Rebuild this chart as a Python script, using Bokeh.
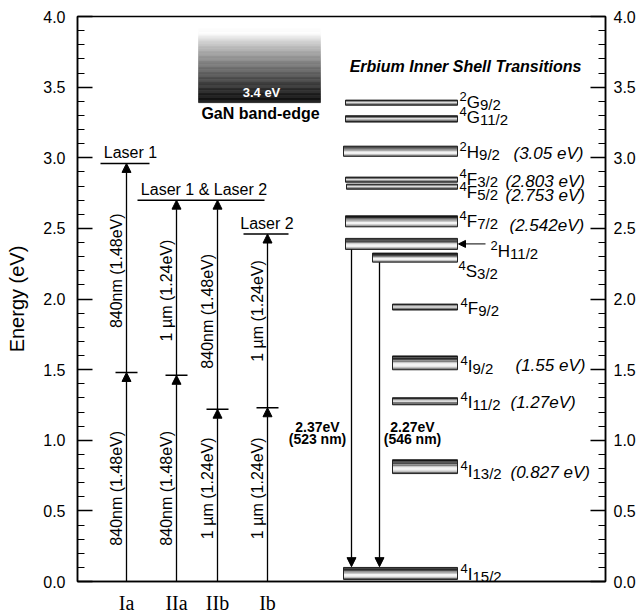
import numpy as np
from bokeh.plotting import figure
from bokeh.models import (Range1d, LinearAxis, SingleIntervalTicker, FixedTicker,
                          NumeralTickFormatter, ColumnDataSource, Arrow, NormalHead)
from bokeh.core.properties import value
from bokeh.embed import file_html
from bokeh.resources import INLINE

FONT = "Liberation Sans"
SERIF = "Liberation Serif"

# ---------------- data ----------------
# Er3+ inner-shell levels
level_sup = ["2", "4", "2", "4", "4", "4", "2", "4", "4", "4", "4", "4", "4"]
level_letter = ["G", "G", "H", "F", "F", "F", "H", "S", "F", "I", "I", "I", "I"]
level_sub = ["9/2", "11/2", "9/2", "3/2", "5/2", "7/2", "11/2", "3/2", "9/2", "9/2", "11/2", "13/2", "15/2"]
level_energy = [3.39, 3.275, 3.046, 2.845, 2.795, 2.55, 2.39, 2.293, 1.943, 1.548, 1.276, 0.813, 0.057]
level_note = ["", "", "(3.05 eV)", "(2.803 eV)", "(2.753 eV)", "(2.542eV)", "", "", "",
              "(1.55 eV)", "(1.27eV)", "(0.827 eV)", ""]

# pump paths
pump_names = ["Ia", "IIa", "IIb", "Ib"]
pump_mid = [1.48, 1.46, 1.22, 1.23]
pump_top = [2.96, 2.70, 2.70, 2.46]
pump_lower_text = ["840nm (1.48eV)", "840nm (1.48eV)", "1 \u00b5m (1.24eV)", "1 \u00b5m (1.24eV)"]
pump_upper_text = ["840nm (1.48eV)", "1 \u00b5m (1.24eV)", "840nm (1.48eV)", "1 \u00b5m (1.24eV)"]

# laser levels
laser_names = ["Laser 1", "Laser 1 & Laser 2", "Laser 2"]
laser_energy = [2.96, 2.70, 2.46]

# green emissions
emis_from = [2.35, 2.26]
emis_to = [0.105, 0.105]
emis_energy_text = ["2.37eV", "2.27eV"]
emis_nm_text = ["(523 nm)", "(546 nm)"]

gan_edge = 3.39
gan_top = 3.915

y_ticks_interval = 0.5

# ---------------- layout (pixel offsets within frame) ----------------
level_x0 = [268, 268, 266, 268, 269, 268, 268, 295, 315, 315, 315, 315, 266]
level_x1 = [380] * 13
level_thick = [0.036, 0.045, 0.072, 0.036, 0.036, 0.078, 0.078, 0.064, 0.042, 0.098, 0.05, 0.098, 0.085]
level_style = ["thin", "thin", "thick", "thin", "thin", "thick", "thick", "thick", "thin",
               "thick", "thin", "thick", "thick"]
label_x = [382, 382, 382, 382, 382, 382, 413, 381, 383, 383, 383, 383, 383]
label_y = [3.39, 3.285, 3.035, 2.845, 2.752, 2.548, 2.336, 2.195, 1.934, 1.523, 1.27, 0.782, 0.053]
note_x = [0, 0, 436, 428, 428, 432, 0, 0, 0, 438, 433, 433, 0]
note_y = [0, 0, 3.03, 2.832, 2.733, 2.52, 0, 0, 0, 1.53, 1.27, 0.775, 0]

pump_x = [49, 99, 140, 190]
laser_x0 = [23, 60, 166]
laser_x1 = [72, 187, 211]
laser_tx = [53, 126.5, 189.5]
emis_x = [274, 302]
emis_tx = [240, 335]

# ---------------- figure ----------------
p = figure(width=639, height=616, output_backend="svg", toolbar_location=None,
           x_range=Range1d(0, 528), y_range=Range1d(0, 4),
           min_border_left=77, min_border_right=34, min_border_top=16, min_border_bottom=34,
           x_axis_location=None, y_axis_location=None)
p.grid.visible = False
p.outline_line_color = "black"
p.outline_line_width = 1.5
p.background_fill_color = "white"
p.border_fill_color = "white"


def style_y_axis(ax, standoff):
    ax.axis_line_color = "black"
    ax.axis_line_width = 1.5
    ax.major_tick_in = 15
    ax.major_tick_out = 0
    ax.minor_tick_in = 7
    ax.minor_tick_out = 0
    ax.major_tick_line_color = "black"
    ax.minor_tick_line_color = "black"
    ax.major_tick_line_width = 1.3
    ax.minor_tick_line_width = 1
    ax.major_label_text_font = FONT
    ax.major_label_text_font_size = "16px"
    ax.major_label_text_color = "black"
    ax.major_label_standoff = standoff


yl = LinearAxis(ticker=SingleIntervalTicker(interval=y_ticks_interval, num_minor_ticks=5),
                formatter=NumeralTickFormatter(format="0.0"), axis_label="Energy (eV)")
style_y_axis(yl, 12)
yl.axis_label_text_font = FONT
yl.axis_label_text_font_size = "20px"
yl.axis_label_text_font_style = "normal"
yl.axis_label_text_color = "black"
yl.axis_label_standoff = 12
p.add_layout(yl, "left")

yr = LinearAxis(ticker=SingleIntervalTicker(interval=y_ticks_interval, num_minor_ticks=5),
                formatter=NumeralTickFormatter(format="0.0"))
style_y_axis(yr, 8)
p.add_layout(yr, "right")

xb = LinearAxis(ticker=FixedTicker(ticks=pump_x),
                major_label_overrides={x: n for x, n in zip(pump_x, pump_names)})
xb.axis_line_color = "black"
xb.axis_line_width = 1.5
xb.major_tick_in = 0
xb.major_tick_out = 0
xb.minor_tick_in = 0
xb.minor_tick_out = 0
xb.major_label_text_font = SERIF
xb.major_label_text_font_size = "20px"
xb.major_label_text_color = "black"
xb.major_label_standoff = 10
p.add_layout(xb, "below")

# ---------------- GaN band edge gradient box ----------------
n_g = 60
edges = np.linspace(gan_top, gan_edge, n_g + 1)
t = (np.arange(n_g) + 0.5) / n_g
grey = (252 - 232 * np.clip((t - 0.08) / 0.85, 0, 1) ** 0.8).astype(int)
g_colors = ["#%02x%02x%02x" % (g, g, g) for g in grey]
p.quad(left=121, right=243, top=edges[:-1], bottom=edges[1:], fill_color=g_colors,
       line_color=g_colors, line_width=0.5)
p.text(x=[184], y=[gan_edge + 0.075], text=["3.4 eV"], text_font=value(FONT),
       text_font_size="13px", text_font_style="bold", text_color="white",
       text_align="center", text_baseline="middle")
p.text(x=[183], y=[gan_edge - 0.075], text=["GaN band-edge"], text_font=value(FONT),
       text_font_size="16px", text_font_style="bold", text_color="black",
       text_align="center", text_baseline="middle")

# ---------------- Er levels ----------------
profiles = {
    "thick": ["#111111", "#2a2a2a", "#4a4a4a", "#808080", "#c8c8c8", "#f4f4f4",
              "#f0f0f0", "#c0c0c0", "#6a6a6a"],
    "thin": ["#2a2a2a", "#7a7a7a", "#dcdcdc", "#7a7a7a", "#2a2a2a"],
}
sl, sr, st, sb, sc = [], [], [], [], []
for e, th, x0, x1, sty in zip(level_energy, level_thick, level_x0, level_x1, level_style):
    cols = profiles[sty]
    n = len(cols)
    top = e + th / 2
    h = th / n
    for k, c in enumerate(cols):
        sl.append(x0); sr.append(x1)
        st.append(top - k * h); sb.append(top - (k + 1) * h)
        sc.append(c)
p.quad(left=sl, right=sr, top=st, bottom=sb, fill_color=sc, line_color=None)
p.quad(left=level_x0, right=level_x1,
       top=[e + th / 2 for e, th in zip(level_energy, level_thick)],
       bottom=[e - th / 2 for e, th in zip(level_energy, level_thick)],
       fill_color=None, line_color="#222222", line_width=1)

# term-symbol labels
letter_w = {"G": 13.2, "H": 12.3, "F": 10.4, "S": 11.3, "I": 4.7}
sup_w = 7.3
p.text(x=label_x, y=label_y, text=level_sup, text_font=value(FONT), text_font_size="13px",
       text_align="left", text_baseline="middle", y_offset=-6, text_color="black")
p.text(x=[x + sup_w for x in label_x], y=label_y, text=level_letter, text_font=value(FONT),
       text_font_size="17px", text_align="left", text_baseline="middle", text_color="black")
p.text(x=[x + sup_w + letter_w[l] for x, l in zip(label_x, level_letter)], y=label_y,
       text=level_sub, text_font=value(FONT), text_font_size="15px", text_align="left",
       text_baseline="middle", y_offset=2, text_color="black")
nidx = [i for i, s in enumerate(level_note) if s]
p.text(x=[note_x[i] for i in nidx], y=[note_y[i] for i in nidx],
       text=[level_note[i] for i in nidx], text_font=value(FONT), text_font_size="17px",
       text_font_style="italic", text_align="left", text_baseline="middle", text_color="black")

p.text(x=[388], y=[3.647], text=["Erbium Inner Shell Transitions"], text_font=value(FONT),
       text_font_size="16px", text_font_style="bold italic", text_align="center",
       text_baseline="middle", text_color="black")

# pointer to 2H11/2
i_h = 6
p.add_layout(Arrow(end=NormalHead(size=7, fill_color="black", line_color="black"),
                   x_start=408, y_start=level_energy[i_h], x_end=381, y_end=level_energy[i_h],
                   line_color="black", line_width=1))

# ---------------- pump arrows ----------------
pump_src = ColumnDataSource(dict(x=pump_x, mid=pump_mid, top=pump_top,
                                 zero=[0] * len(pump_x)))
head = dict(size=9, fill_color="black", line_color="black", line_width=1)
p.add_layout(Arrow(end=NormalHead(**head), x_start="x", y_start="zero", x_end="x",
                   y_end="mid", source=pump_src, line_color="black", line_width=1.3))
p.add_layout(Arrow(end=NormalHead(**head), x_start="x", y_start="mid", x_end="x",
                   y_end="top", source=pump_src, line_color="black", line_width=1.3))
p.segment(x0=[x - 11 for x in pump_x], x1=[x + 11 for x in pump_x], y0=pump_mid,
          y1=pump_mid, line_color="black", line_width=1.5)

p.text(x=[x - 10.5 for x in pump_x], y=[0.66] * 4, text=pump_lower_text, angle=np.pi / 2,
       text_font=value(FONT), text_font_size="16px", text_align="center",
       text_baseline="middle", text_color="black")
p.text(x=[x - 10.5 for x in pump_x], y=[2.2, 2.06, 1.913, 1.915], text=pump_upper_text,
       angle=np.pi / 2, text_font=value(FONT), text_font_size="16px", text_align="center",
       text_baseline="middle", text_color="black")

# laser levels
p.segment(x0=laser_x0, x1=laser_x1, y0=laser_energy, y1=laser_energy,
          line_color="black", line_width=1.5)
p.text(x=laser_tx, y=laser_energy, text=laser_names, text_font=value(FONT),
       text_font_size="16px", text_align="center", text_baseline="bottom",
       y_offset=-2, text_color="black")

# ---------------- emission arrows ----------------
em_src = ColumnDataSource(dict(x=emis_x, y0=emis_from, y1=emis_to))
p.add_layout(Arrow(end=NormalHead(**head), x_start="x", y_start="y0", x_end="x", y_end="y1",
                   source=em_src, line_color="black", line_width=1.3))
p.text(x=emis_tx, y=[1.095, 1.095], text=emis_energy_text, text_font=value(FONT),
       text_font_size="14px", text_font_style="bold", text_align="center",
       text_baseline="middle", text_color="black")
p.text(x=emis_tx, y=[1.01, 1.01], text=emis_nm_text, text_font=value(FONT),
       text_font_size="14px", text_font_style="bold", text_align="center",
       text_baseline="middle", text_color="black")

open("out.html", "w").write(file_html(p, INLINE))
